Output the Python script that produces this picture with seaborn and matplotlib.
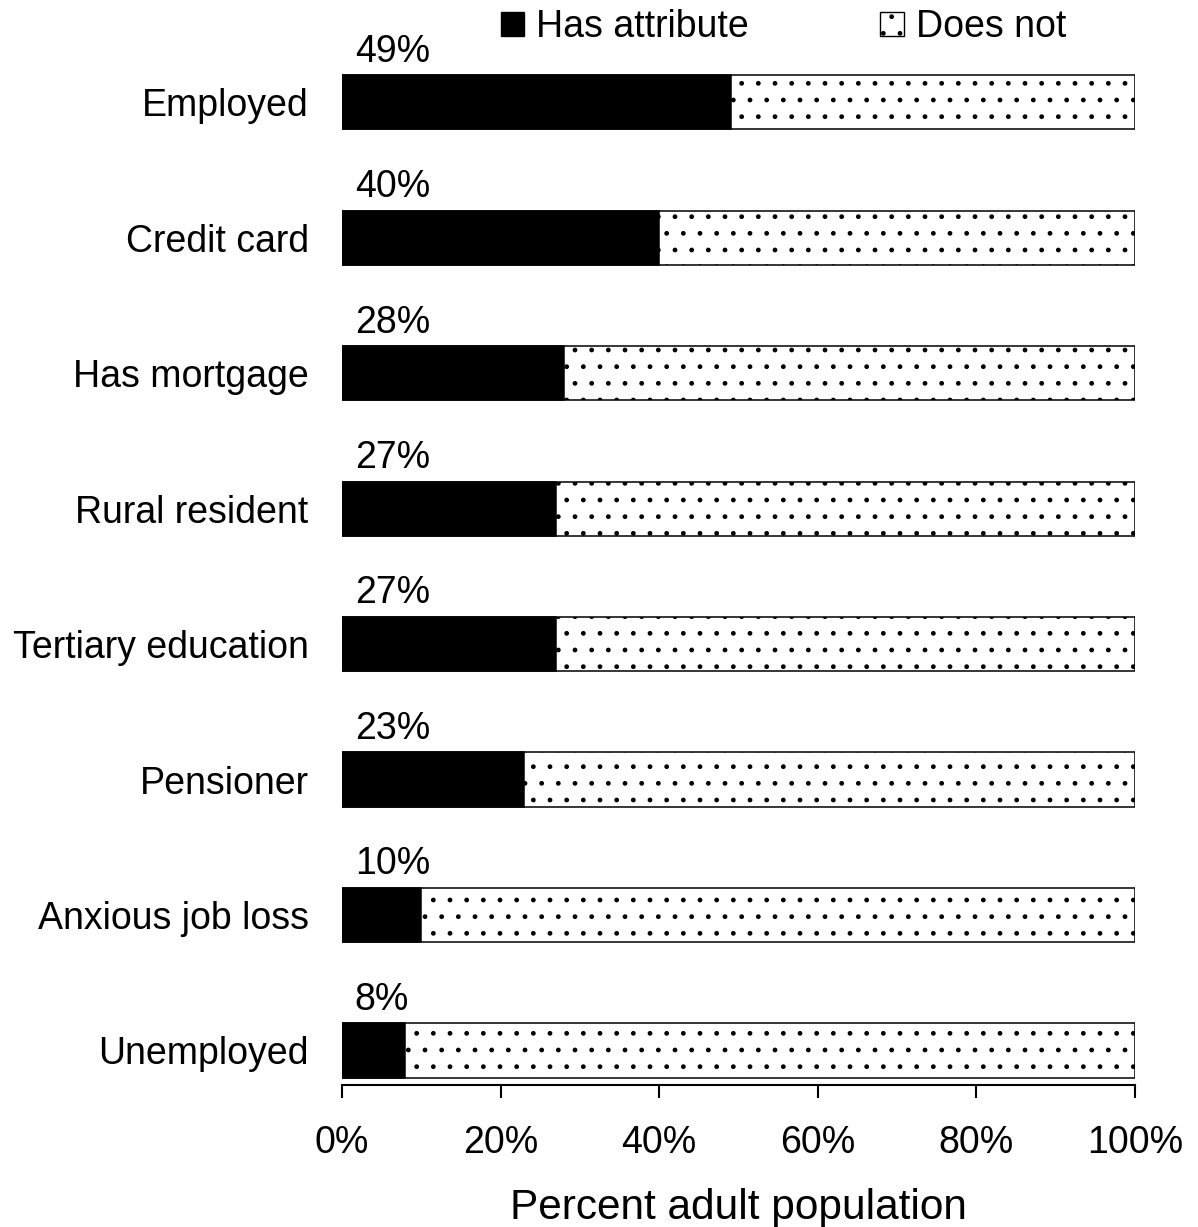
import matplotlib.pyplot as plt
import seaborn as sns
import pandas as pd
from matplotlib.patches import Patch

# Share of adult population with each attribute (%)
categories = ["Employed", "Credit card", "Has mortgage", "Rural resident",
              "Tertiary education", "Pensioner", "Anxious job loss", "Unemployed"]
has_attribute = [49, 40, 28, 27, 27, 23, 10, 8]
total = [100] * len(categories)

df = pd.DataFrame({"category": categories, "has": has_attribute, "total": total})

sns.set_style("ticks")
plt.rcParams["font.family"] = ["Liberation Sans", "DejaVu Sans"]
plt.rcParams["hatch.linewidth"] = 1.0
plt.rcParams["hatch.color"] = "black"
plt.rcParams["text.color"] = "black"
plt.rcParams["axes.labelcolor"] = "black"
plt.rcParams["xtick.color"] = "black"
plt.rcParams["ytick.color"] = "black"

fig = plt.figure(figsize=(11.98, 12.27), dpi=100)
ax = fig.add_axes([0.2855, 0.1157, 0.6619, 0.8517])

# "Does not" = full bar with dots, "Has attribute" drawn over it in black
sns.barplot(data=df, x="total", y="category", orient="h", color="white",
            edgecolor="black", linewidth=1.1, hatch=".", width=0.4,
            saturation=1, ax=ax)
sns.barplot(data=df, x="has", y="category", orient="h", color="black",
            edgecolor="black", linewidth=1.1, width=0.4, saturation=1, ax=ax)

for i, v in enumerate(has_attribute):
    ax.text(1.6, i - 0.3, f"{v}%", ha="left", va="baseline", fontsize=27,
            color="black")

ax.set_xlim(0, 100)
ax.set_ylim(7.255, -0.46)
ax.set_xticks([0, 20, 40, 60, 80, 100])
ax.set_xticklabels([f"{t}%" for t in [0, 20, 40, 60, 80, 100]])
ax.tick_params(axis="x", labelsize=27, length=9.5, width=1.5, pad=19,
               direction="out", colors="black")
ax.tick_params(axis="y", labelsize=27, length=0, pad=24, colors="black")
ax.set_xlabel("Percent adult population", fontsize=30.5, labelpad=20,
              color="black")
ax.set_ylabel("")

for side in ["top", "right", "left"]:
    ax.spines[side].set_visible(False)
ax.spines["bottom"].set_linewidth(1.5)
ax.spines["bottom"].set_color("black")

handles = [Patch(facecolor="black", edgecolor="black", label="Has attribute"),
           Patch(facecolor="white", edgecolor="black", hatch=".", label="Does not")]
fig.legend(handles=handles, loc="center", bbox_to_anchor=(0.654, 0.978),
           ncol=2, frameon=False, fontsize=27, handlelength=0.62,
           handleheight=0.62, handletextpad=0.32, columnspacing=3.5,
           labelcolor="black")

fig.savefig("out.png", dpi=100)
